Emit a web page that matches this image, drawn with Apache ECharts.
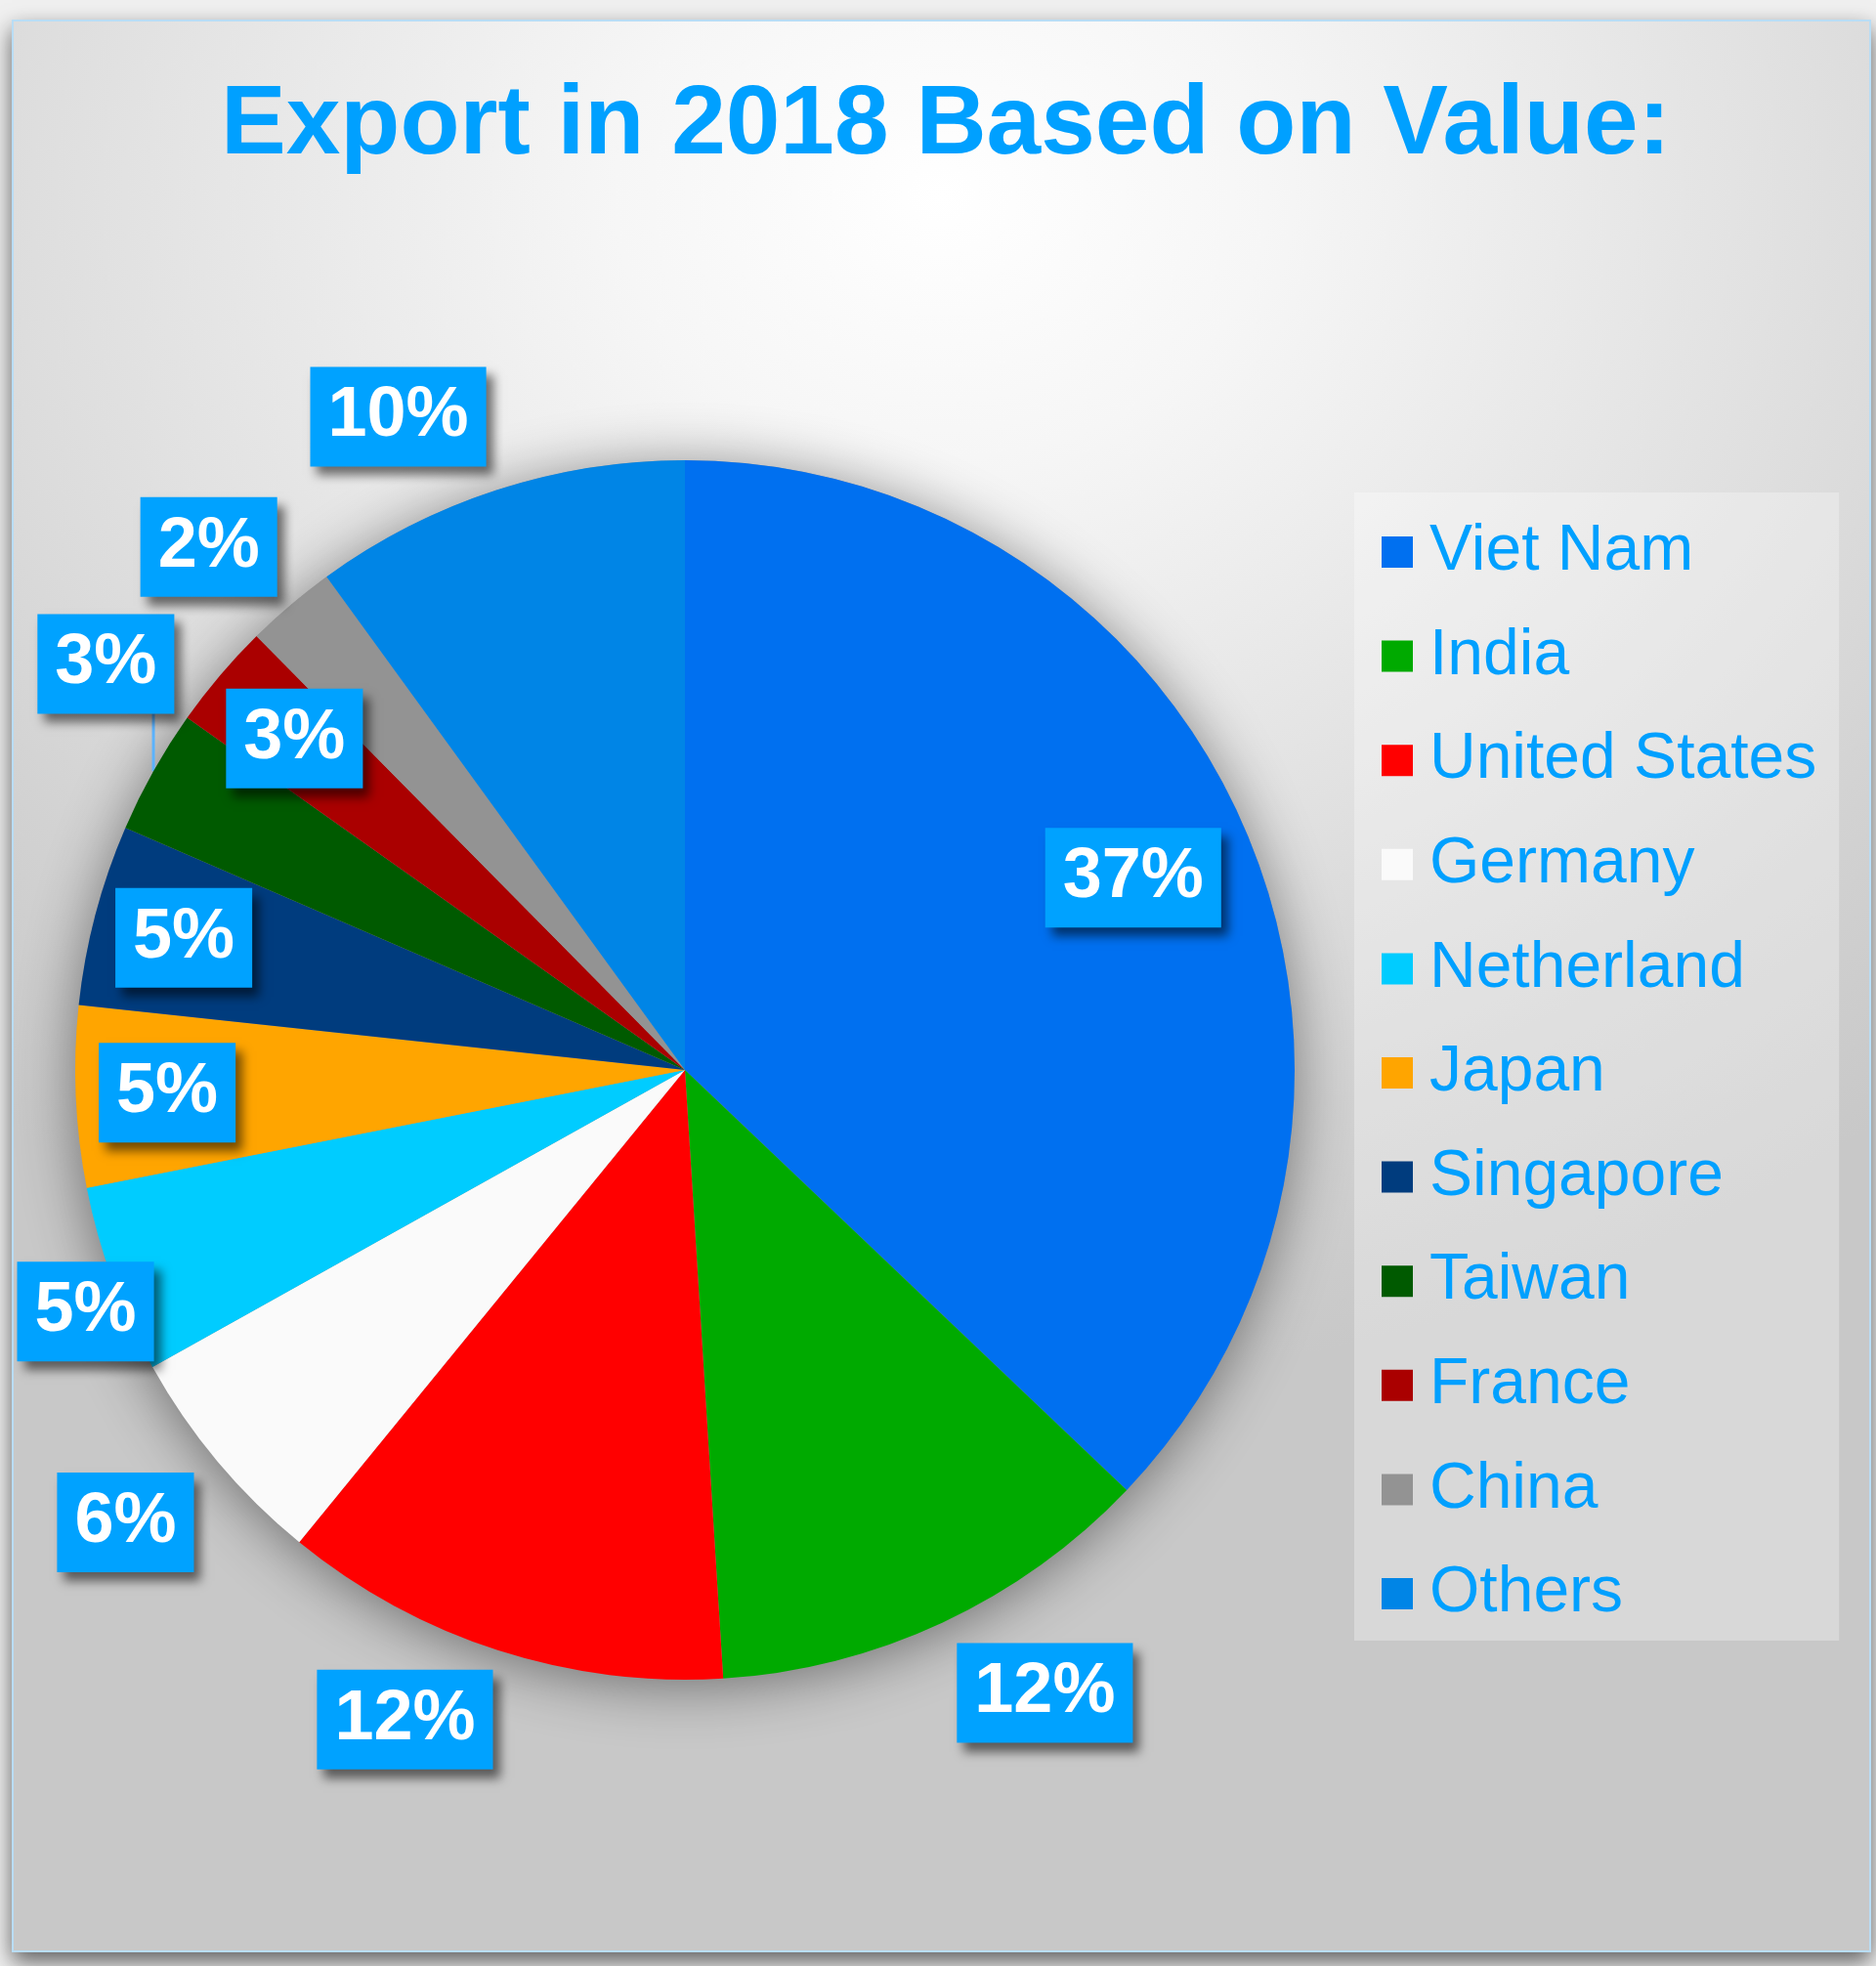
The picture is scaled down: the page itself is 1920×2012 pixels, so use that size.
<!DOCTYPE html>
<html>
<head>
<meta charset="utf-8">
<title>Export in 2018 Based on Value</title>
<script src="https://cdn.jsdelivr.net/npm/echarts@6/dist/echarts.min.js"></script>
<style>
  html, body {
    margin: 0;
    padding: 0;
    width: 1920px;
    height: 2012px;
    background: #f0f0f0;
    overflow: hidden;
  }
  .frame {
    position: absolute;
    left: 12px;
    top: 20px;
    width: 1899px;
    height: 1974px;
    border: 2px solid #b9ddf5;
    box-shadow: 0 10px 22px rgba(0, 0, 0, 0.6);
    background: radial-gradient(ellipse 80% 62% at 50% 9%, #ffffff 0%, #f6f6f6 22%, #e2e2e2 55%, #d2d2d2 80%, #c8c8c8 100%);
  }
  #piemain {
    position: absolute;
    left: 0;
    top: 0;
    width: 1920px;
    height: 2012px;
  }
</style>
</head>
<body>
<div class="frame"></div>
<div id="piemain"></div>
<script>
// 数据
var countries = ['Viet Nam', 'India', 'United States', 'Germany', 'Netherland', 'Japan',
  'Singapore', 'Taiwan', 'France', 'China', 'Others']
var shares = [37.1, 11.9, 11.9, 6.0, 5.0, 4.8, 4.8, 3.3, 2.8, 2.4, 10.0]

// 样式
var sliceColors = ['#0070f0', '#00aa00', '#ff0000', '#fafafa', '#00ccff', '#ffa500',
  '#003c7e', '#005a00', '#aa0000', '#939393', '#0085e6']
// label placement: [radius factor, angle offset in degrees]
var labelPlacement = [
  [0.80, 0], [1.18, -5], [1.16, 5.5], [1.18, 1], [1.06, -1.8], [0.85, 0],
  [0.85, 0], [1.16, 5.7], [0.84, 0], [1.16, -2], [1.17, -5.7]
]
// only Taiwan's label has a leader line
var withLeader = ['Taiwan']

var pieCenter = [701, 1095]
var pieRadius = 624
var fontFamily = '"Liberation Sans", Arial, sans-serif'

function initPie() {
  var chartObj = echarts.init(document.getElementById('piemain'), null, { renderer: 'canvas' })

  var total = shares.reduce(function(a, b) { return a + b }, 0)
  var starts = []
  var acc = 0
  for (var i = 0; i < shares.length; i++) {
    starts.push(acc)
    acc += shares[i]
  }

  var pieData = countries.map(function(name, index) {
    return {
      name: name,
      value: shares[index],
      itemStyle: { color: sliceColors[index] },
      labelLine: { show: withLeader.indexOf(name) > -1 }
    }
  })

  // angle (deg, clockwise from 12 o'clock) -> pixel point
  function polar(angle, r) {
    var rad = angle * Math.PI / 180
    return [pieCenter[0] + r * Math.sin(rad), pieCenter[1] - r * Math.cos(rad)]
  }

  var option = {
    backgroundColor: 'transparent',
    animation: false,
    title: {
      text: 'Export in 2018 Based on Value:',
      left: 221,
      top: 74,
      textStyle: {
        color: '#00a0ff',
        fontSize: 100,
        fontWeight: 'bold',
        fontFamily: fontFamily,
        lineHeight: 100
      }
    },
    legend: {
      orient: 'vertical',
      left: 1386,
      top: 504,
      data: countries,
      icon: 'rect',
      itemWidth: 32,
      itemHeight: 32,
      itemGap: 40.6,
      padding: [28, 23, 15, 28],
      backgroundColor: 'rgba(255,255,255,0.3)',
      selectedMode: false,
      textStyle: {
        color: '#00a0ff',
        fontSize: 66,
        lineHeight: 66,
        fontFamily: fontFamily,
        padding: [0, 0, 0, 12]
      }
    },
    series: [
      {
        // soft shadow behind the pie
        name: 'shadow',
        type: 'pie',
        silent: true,
        center: pieCenter,
        radius: pieRadius,
        z: 1,
        label: { show: false },
        labelLine: { show: false },
        itemStyle: {
          color: '#9a9a9a',
          shadowBlur: 60,
          shadowColor: 'rgba(0,0,0,0.45)',
          shadowOffsetX: 0,
          shadowOffsetY: 6
        },
        data: [{ name: '', value: total }]
      },
      {
        name: 'Export',
        type: 'pie',
        center: pieCenter,
        radius: pieRadius,
        startAngle: 90,
        clockwise: true,
        z: 2,
        avoidLabelOverlap: false,
        emphasis: { disabled: true },
        itemStyle: { borderWidth: 0 },
        labelLine: {
          show: false,
          length: 10,
          length2: 10,
          lineStyle: { color: '#5cb3ff', width: 3 }
        },
        label: {
          show: true,
          position: 'outside',
          formatter: function(params) {
            return Math.round(params.value / total * 100) + '%'
          },
          color: '#ffffff',
          fontSize: 72,
          fontWeight: 'bold',
          fontFamily: fontFamily,
          lineHeight: 72,
          backgroundColor: '#00a2ff',
          padding: [16, 18, 14, 18],
          shadowColor: 'rgba(0,0,0,0.55)',
          shadowBlur: 10,
          shadowOffsetX: 7,
          shadowOffsetY: 9
        },
        labelLayout: function(params) {
          var idx = params.dataIndex
          var place = labelPlacement[idx]
          var mid = (starts[idx] + shares[idx] / 2) / total * 360
          var pos = polar(mid + place[1], place[0] * pieRadius)
          var layout = {
            x: pos[0],
            y: pos[1],
            align: 'center',
            verticalAlign: 'middle'
          }
          if (withLeader.indexOf(countries[idx]) > -1) {
            // vertical leader from the slice edge up to the label's bottom
            var edge = polar(mid, pieRadius)
            var bottom = pos[1] + params.labelRect.height / 2
            layout.labelLinePoints = [edge, [edge[0], (edge[1] + bottom) / 2], [edge[0], bottom]]
          }
          return layout
        },
        data: pieData
      }
    ]
  }

  chartObj.setOption(option, true)
  return chartObj
}

initPie()
</script>
</body>
</html>
